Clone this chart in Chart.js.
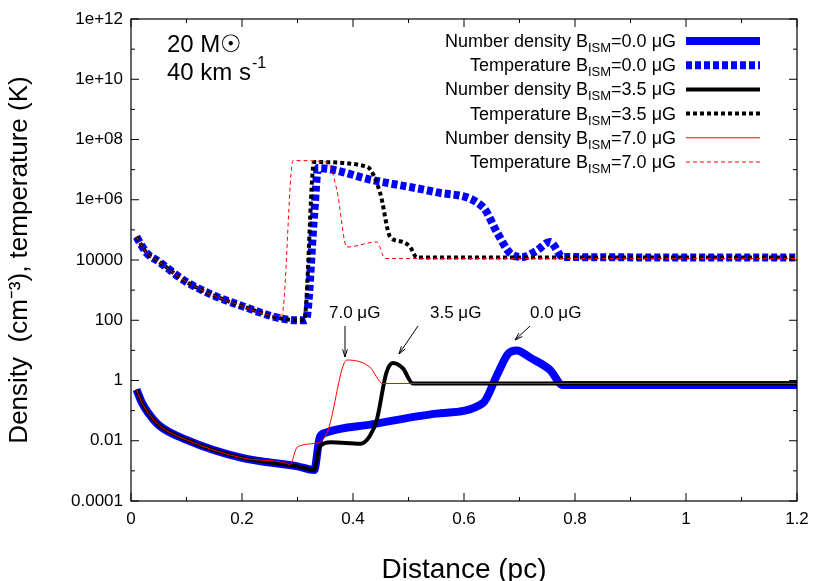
<!DOCTYPE html>
<html><head><meta charset="utf-8">
<script src="https://cdn.jsdelivr.net/npm/chart.js@4"></script>
<style>body{margin:0;background:#fff}#w{width:830px;height:581px}</style>
</head><body><div id="w"><canvas id="c"></canvas></div>
<script>
// x in pc, y as log10 of value
const densB0X=[0.01,0.02,0.03,0.05,0.1,0.2,0.3,0.33,0.34,0.35,0.436,0.55,0.634,0.66,0.68,0.695,0.72,0.755,0.778,1.2];
const densB0L=[-0.3,-0.75,-1.05,-1.48,-1.97,-2.57,-2.85,-2.97,-1.9,-1.74,-1.45,-1.1,-0.75,0.2,0.9,1.0,0.75,0.35,-0.15,-0.15];
const tempB0X=[0.01,0.02,0.03,0.05,0.1,0.2,0.3,0.315,0.33,0.337,0.436,0.55,0.634,0.66,0.683,0.706,0.73,0.755,0.778,1.2];
const tempB0L=[4.77,4.45,4.2,3.95,3.27,2.47,2.0,2.0,5.5,7.05,6.65,6.25,5.76,4.9,4.23,4.1,4.3,4.6,4.1,4.08];
const densB35X=[0.01,0.02,0.03,0.05,0.1,0.2,0.3,0.33,0.34,0.36,0.413,0.43,0.443,0.46,0.472,0.49,0.508,1.2];
const densB35L=[-0.3,-0.75,-1.05,-1.48,-1.97,-2.57,-2.85,-2.97,-2.2,-2.05,-2.1,-1.85,-1.3,0.25,0.58,0.4,-0.1,-0.1];
const tempB35X=[0.01,0.02,0.03,0.05,0.1,0.2,0.3,0.312,0.33,0.425,0.449,0.467,0.49,0.503,0.515,1.2];
const tempB35L=[4.77,4.45,4.2,3.95,3.27,2.47,2.0,2.0,7.25,7.1,6.22,4.77,4.6,4.43,4.08,4.08];
const densB70X=[0.01,0.02,0.03,0.05,0.1,0.2,0.28,0.286,0.3,0.34,0.355,0.389,0.43,0.454,1.2];
const densB70L=[-0.3,-0.75,-1.05,-1.48,-1.97,-2.57,-2.75,-2.8,-2.2,-2.05,-1.64,0.68,0.45,-0.1,-0.1];
const tempB70X=[0.01,0.02,0.03,0.05,0.1,0.2,0.26,0.272,0.292,0.353,0.371,0.389,0.443,0.458,1.2];
const tempB70L=[4.77,4.45,4.2,3.95,3.27,2.47,2.15,2.18,7.3,7.25,6.32,4.43,4.6,4.05,4.05];
const yTickLabels={12:'1e+12',10:'1e+10',8:'1e+08',6:'1e+06',4:'10000',2:'100',0:'1',[-2]:'0.01',[-4]:'0.0001'};
const xTicks=[0,0.2,0.4,0.6,0.8,1,1.2];

const pts=(xs,ls)=>xs.map((x,i)=>({x:x,y:Math.pow(10,ls[i])}));
const ds=(d,color,w,dash,ord)=>({data:d,borderColor:color,borderWidth:w,borderDash:dash||[],pointRadius:0,cubicInterpolationMode:'monotone',fill:false,order:ord});
const FONT='"Liberation Sans", Arial, sans-serif';

const deco={id:'deco',afterDatasetsDraw(ch){
  const c=ch.ctx;
  c.save();
  const a=ch.chartArea;c.strokeStyle='#000';c.lineWidth=1.2;c.strokeRect(a.left,a.top,a.right-a.left,a.bottom-a.top);
  c.fillStyle='#000';c.font='24px '+FONT;c.textBaseline='alphabetic';
  c.fillText('20 M\u2609',167,52);
  c.fillText('40 km s',167,80);const w=c.measureText('40 km s').width;
  c.font='16px '+FONT;c.fillText('-1',167+w+1,68);
  const items=[['Number density','0.0','#0000ff',8,[]],['Temperature','0.0','#0000ff',8,[6,3]],
   ['Number density','3.5','#000',4,[]],['Temperature','3.5','#000',4,[4,3]],
   ['Number density','7.0','#ff0000',1,[]],['Temperature','7.0','#ff0000',1,[4,3]]];
  items.forEach((it,i)=>{const y=41+i*24.2;
    c.textAlign='left';
    const t1=it[0]+' B',t2='ISM',t3='='+it[1]+' \u03bcG';
    c.font='18px '+FONT;const w1=c.measureText(t1).width,w3=c.measureText(t3).width;
    c.font='13px '+FONT;const w2=c.measureText(t2).width;
    const end=676,st=end-w1-w2-w3;
    c.font='18px '+FONT;c.fillText(t1,st,y+6);
    c.font='13px '+FONT;c.fillText(t2,st+w1,y+11);
    c.font='18px '+FONT;c.fillText(t3,st+w1+w2,y+6);
    c.strokeStyle=it[2];c.lineWidth=it[3];c.setLineDash(it[4]);
    c.beginPath();c.moveTo(686,y);c.lineTo(760,y);c.stroke();c.setLineDash([]);
  });
  c.font='17px '+FONT;c.textAlign='left';c.strokeStyle='#000';c.lineWidth=1;
  [['7.0 \u03bcG',329,318],['3.5 \u03bcG',430,318],['0.0 \u03bcG',530,318]].forEach(t=>c.fillText(t[0],t[1],t[2]));
  const arrows=[[345,326,345,357],[418,326,399,354],[530,326,515,340]];
  arrows.forEach(r=>{c.beginPath();c.moveTo(r[0],r[1]);c.lineTo(r[2],r[3]);c.stroke();
    const ang=Math.atan2(r[3]-r[1],r[2]-r[0]);c.beginPath();
    c.moveTo(r[2]-8*Math.cos(ang-0.3),r[3]-8*Math.sin(ang-0.3));c.lineTo(r[2],r[3]);
    c.lineTo(r[2]-8*Math.cos(ang+0.3),r[3]-8*Math.sin(ang+0.3));c.stroke();});
  c.restore();
}};

new Chart(document.getElementById('c'),{type:'line',
 data:{datasets:[
  ds(pts(densB0X,densB0L),'#0000ff',8,[],6),
  ds(pts(tempB0X,tempB0L),'#0000ff',8,[6,3],5),
  ds(pts(densB35X,densB35L),'#000',4,[],4),
  ds(pts(tempB35X,tempB35L),'#000',4,[4,3],3),
  ds(pts(densB70X,densB70L),'#ff0000',1,[],2),
  ds(pts(tempB70X,tempB70L),'#ff0000',1,[4,3],1)]},
 options:{responsive:true,maintainAspectRatio:false,animation:false,
  layout:{padding:{top:19,right:33,left:0,bottom:0}},
  plugins:{legend:{display:false},tooltip:{enabled:false}},
  scales:{
   x:{type:'linear',min:0,max:1.2,grid:{display:false,drawTicks:false},border:{display:false},
      afterBuildTicks:s=>{s.ticks=xTicks.map(v=>({value:v}));},
      ticks:{color:'#000',font:{size:17,family:FONT},padding:8,maxRotation:0,callback:v=>String(v)},
      title:{display:true,text:'Distance (pc)',color:'#000',font:{size:28,family:FONT},padding:{top:10,bottom:-6}},
      afterFit:s=>{s.height=80;}},
   y:{type:'logarithmic',min:1e-4,max:1e12,grid:{display:false,drawTicks:false},border:{display:false},
      afterBuildTicks:s=>{const t=[];for(let e=-4;e<=12;e++)t.push({value:Math.pow(10,e)});s.ticks=t;},
      ticks:{color:'#000',font:{size:17,family:FONT},padding:8,autoSkip:false,
        callback:v=>{const e=Math.round(Math.log10(v));return yTickLabels[e]||'';}},
      title:{display:true,text:'Density  (cm\u207b\u00b3), temperature (K)',color:'#000',font:{size:26,family:FONT},padding:{bottom:2}},
      afterFit:s=>{s.width=131;}}
  }},
 plugins:[deco,{id:'ticks',afterDraw(ch){const c=ch.ctx,a=ch.chartArea,ys=ch.scales.y,xs=ch.scales.x;
   c.save();c.strokeStyle='#000';c.lineWidth=1;
   for(let e=-4;e<=12;e++){const y=ys.getPixelForValue(Math.pow(10,e));const L=e%2===0?8:4;
     c.beginPath();c.moveTo(a.left,y);c.lineTo(a.left+L,y);c.moveTo(a.right,y);c.lineTo(a.right-L,y);c.stroke();}
   for(let v=0;v<=1.2001;v+=0.1){const x=xs.getPixelForValue(v);const L=Math.round(v*10)%2===0?8:4;
     c.beginPath();c.moveTo(x,a.bottom);c.lineTo(x,a.bottom-L);c.moveTo(x,a.top);c.lineTo(x,a.top+L);c.stroke();}
   c.restore();}}]
});
</script></body></html>
